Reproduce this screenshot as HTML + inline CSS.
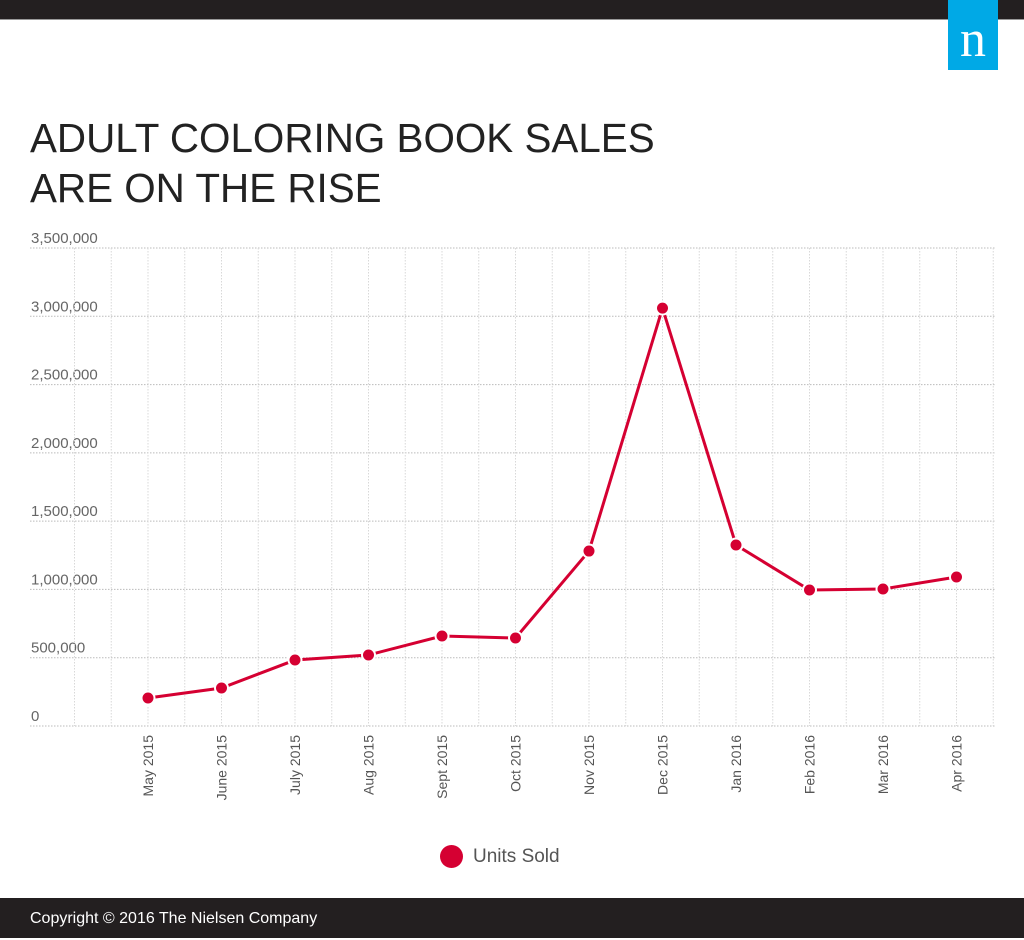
<!DOCTYPE html>
<html><head><meta charset="utf-8"><style>
body{margin:0;width:1024px;height:938px;background:#fff;position:relative;overflow:hidden;font-family:"Liberation Sans",sans-serif}
</style></head><body>
<div style="position:absolute;left:0;top:0;width:1024px;height:19px;background:#231f20;border-bottom:1px solid #999"></div>
<div style="position:absolute;left:948px;top:0;width:50px;height:70px;background:#00a9e6;color:#fff;font-family:'Liberation Serif',serif;font-size:52px;text-align:center;line-height:80px">n</div>
<div style="position:absolute;left:30px;top:113px;font-size:41px;line-height:50px;color:#222;font-weight:300;transform:scaleX(0.985);transform-origin:left">ADULT COLORING BOOK SALES<br>ARE ON THE RISE</div>
<svg id="chart" width="1024" height="938" style="position:absolute;left:0;top:0"></svg>
<div style="position:absolute;left:440px;top:845px;font-size:19px;color:#555;line-height:24px"><span style="display:inline-block;width:23px;height:23px;border-radius:50%;background:#d50032;vertical-align:middle;margin-right:10px"></span>Units Sold</div>
<div style="position:absolute;left:0;top:898px;width:1024px;height:40px;background:#231f20;color:#fff;font-size:16px;line-height:42px;padding-left:30px;box-sizing:border-box">Copyright © 2016 The Nielsen Company</div>
<script>
const categories=["May 2015","June 2015","July 2015","Aug 2015","Sept 2015","Oct 2015","Nov 2015","Dec 2015","Jan 2016","Feb 2016","Mar 2016","Apr 2016"];
const unitsSold=[205000,278000,483000,520000,659000,644000,1281000,3060000,1325000,996000,1003000,1091000];
const yTicks=[0,500000,1000000,1500000,2000000,2500000,3000000,3500000];
const yTickLabels=["0","500,000","1,000,000","1,500,000","2,000,000","2,500,000","3,000,000","3,500,000"];
const NS="http://www.w3.org/2000/svg";
const svg=document.getElementById('chart');
const y0=726,yTop=248,yMax=3500000,x0=148,step=73.5;
const y=v=>y0-(v/yMax)*(y0-yTop);
const x=i=>x0+i*step;
function mk(t,a){const e=document.createElementNS(NS,t);for(const k in a)e.setAttribute(k,a[k]);svg.appendChild(e);return e;}
yTicks.forEach((v,i)=>{
 const l=mk('line',{x1:30,x2:996,y1:y(v),y2:y(v),stroke:'#bbb','stroke-dasharray':'1.5,1.5'});
 
 
 const t=mk('text',{x:31,y:y(v)-5,'font-size':15,fill:'#666','font-family':'Liberation Sans, sans-serif'});
 t.textContent=yTickLabels[i];
 
 
});
for(let k=-2;k<=categories.length*2;k++){
 const xx=x0+k*step/2; if(xx>996)continue;
 const l=mk('line',{x1:xx,x2:xx,y1:yTop,y2:y0,stroke:'#d8d8d8','stroke-dasharray':'1.5,1.5'});
 
 
}
categories.forEach((c,i)=>{
 const t=mk('text',{x:0,y:0,'font-size':14,fill:'#555','font-family':'Liberation Sans, sans-serif','text-anchor':'end',transform:`translate(${x(i)+5},735) rotate(-90)`});
 t.textContent=c;
 
 
});
const p=mk('polyline',{points:unitsSold.map((v,i)=>x(i)+','+y(v)).join(' '),fill:'none',stroke:'#d50032','stroke-width':3});


unitsSold.forEach((v,i)=>{
 const c=mk('circle',{cx:x(i),cy:y(v),r:6.5,fill:'#d50032',stroke:'#fff','stroke-width':2});
 
 
});
</script>
</body></html>
